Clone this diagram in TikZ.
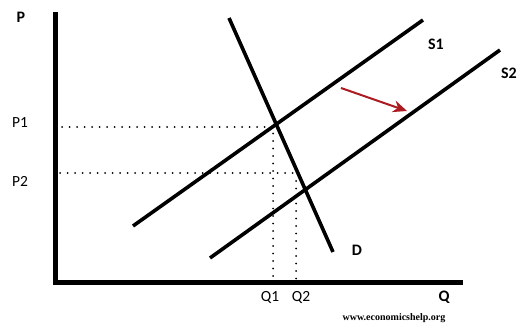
\documentclass[tikz,border=0pt]{standalone}
\usepackage{fontspec}
\setmainfont{Carlito}
\newfontfamily\webfont{Liberation Serif}
\usetikzlibrary{arrows.meta}
\definecolor{shiftred}{RGB}{172,26,34}

\begin{document}
\begin{tikzpicture}[x=1pt,y=-1pt,
  axisline/.style={line width=5pt},
  curveline/.style={line width=3.6pt},
  guideline/.style={line width=2pt,line cap=round,dash pattern=on 0pt off 7.5pt},
  axislabel/.style={font=\fontsize{16}{18}\selectfont\bfseries},
  ticklabel/.style={font=\fontsize{15.5}{18}\selectfont}]
  \useasboundingbox (0,0) rectangle (518,323);
  % axes
  \coordinate (origin) at (55,282);
  \coordinate (ptop) at (55,12);
  \coordinate (qend) at (463,282);
  \draw[axisline] (ptop) -- (origin) -- (qend);
  % demand and the two supply curves
  \coordinate (dtop) at (229,18);
  \coordinate (dbot) at (333,252);
  \coordinate (sonelow) at (133,226);
  \coordinate (sonehigh) at (423,20);
  \coordinate (stwolow) at (210,258);
  \coordinate (stwohigh) at (500,50);
  \draw[curveline] (dtop) -- (dbot);
  \draw[curveline] (sonelow) -- (sonehigh);
  \draw[curveline] (stwolow) -- (stwohigh);
  % dotted guides
  \coordinate (pone) at (62,127);
  \coordinate (eone) at (273,127);
  \coordinate (qone) at (273,280);
  \coordinate (ptwo) at (60,173);
  \coordinate (etwo) at (294,173);
  \coordinate (qtwo) at (296,280);
  \coordinate (qtwotop) at (296,181);
  \draw[guideline] (pone) -- (eone) -- (qone);
  \draw[guideline] (ptwo) -- (etwo);
  \draw[guideline] (qtwotop) -- (qtwo);
  % shift arrow
  \coordinate (shiftfrom) at (341,88);
  \coordinate (shiftto) at (407,111);
  \draw[shiftred,line width=2pt,-{Stealth[length=14pt,width=12pt]}] (shiftfrom) -- (shiftto);
  % labels
  \node[axislabel] (lblP) at (21,17) {P};
  \node[ticklabel] (lblPone) at (20,123) {P1};
  \node[ticklabel] (lblPtwo) at (20,181) {P2};
  \node[ticklabel] (lblQone) at (270,297) {Q1};
  \node[ticklabel] (lblQtwo) at (301,297) {Q2};
  \node[axislabel] (lblQ) at (444,297) {Q};
  \node[axislabel] (lblD) at (357,250) {D};
  \node[axislabel] (lblSone) at (436,44) {S1};
  \node[axislabel] (lblStwo) at (509,73) {S2};
  \node[font=\webfont\fontsize{10}{12}\selectfont\bfseries] (lblweb) at (394,318) {www.economicshelp.org};
\end{tikzpicture}
\end{document}
